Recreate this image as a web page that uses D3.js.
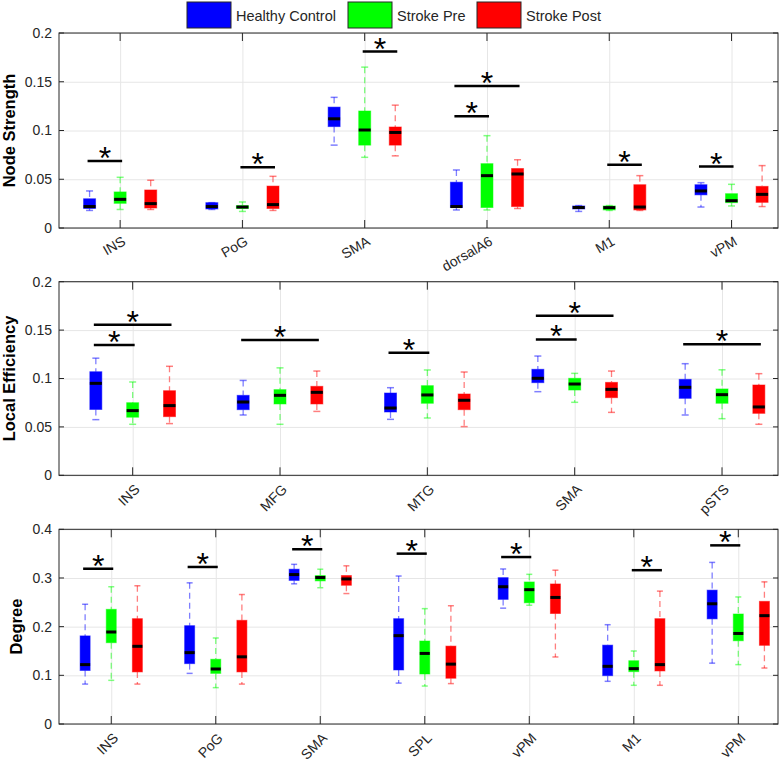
<!DOCTYPE html>
<html>
<head>
<meta charset="utf-8">
<script src="https://cdn.jsdelivr.net/npm/d3@7"></script>
<style>
  body { margin: 0; background: #fff; }
  text { font-family: "Liberation Sans", Arial, Helvetica, sans-serif; }
</style>
</head>
<body>
<div id="drawing_region"></div>
<script>
// each box: [lower whisker, q1, median, q3, upper whisker]
const groups = ['Healthy Control', 'Stroke Pre', 'Stroke Post'];
const groupColors = ['#0000ff', '#00ff00', '#ff0000'];

// Node Strength
const nsRegions = ['INS', 'PoG', 'SMA', 'dorsalA6', 'M1', 'vPM'];
const nsHC = [
    [0.018, 0.020, 0.022, 0.030, 0.038],
    [0.019, 0.0195, 0.022, 0.026, 0.026],
    [0.085, 0.104, 0.112, 0.124, 0.134],
    [0.0185, 0.021, 0.022, 0.047, 0.0595],
    [0.017, 0.0195, 0.021, 0.0226, 0.023],
    [0.0215, 0.034, 0.038, 0.0444, 0.0465]
];
const nsPre = [
    [0.019, 0.0253, 0.0294, 0.037, 0.052],
    [0.017, 0.020, 0.0215, 0.023, 0.0267],
    [0.0725, 0.085, 0.1005, 0.120, 0.165],
    [0.0185, 0.021, 0.0537, 0.066, 0.0947],
    [0.018, 0.0185, 0.0209, 0.0226, 0.023],
    [0.0226, 0.026, 0.028, 0.0352, 0.0448]
];
const nsPost = [
    [0.019, 0.0205, 0.025, 0.039, 0.049],
    [0.018, 0.020, 0.024, 0.043, 0.053],
    [0.074, 0.085, 0.098, 0.1036, 0.126],
    [0.020, 0.022, 0.0554, 0.061, 0.070],
    [0.018, 0.0185, 0.0215, 0.0444, 0.0537],
    [0.022, 0.0263, 0.0345, 0.0427, 0.064]
];
// [region index, group a, group b, height]
const nsSig = [[0, 0, 1, 0.0687], [1, 1, 2, 0.0622], [2, 1, 2, 0.181],
               [3, 0, 2, 0.1456], [3, 0, 1, 0.1145], [4, 1, 2, 0.065], [5, 0, 1, 0.063]];
const nsTicks = [0, 0.05, 0.1, 0.15, 0.2];

// Local Efficiency
const leRegions = ['INS', 'MFG', 'MTG', 'SMA', 'pSTS'];
const leHC = [
    [0.0575, 0.068, 0.095, 0.107, 0.121],
    [0.0623, 0.0678, 0.0757, 0.0826, 0.098],
    [0.0578, 0.0654, 0.0695, 0.085, 0.0905],
    [0.0864, 0.0957, 0.1002, 0.1095, 0.1232],
    [0.0623, 0.0795, 0.0909, 0.0991, 0.1153]
];
const lePre = [
    [0.0527, 0.060, 0.0668, 0.075, 0.0964],
    [0.0527, 0.0737, 0.0826, 0.0885, 0.111],
    [0.0592, 0.0744, 0.083, 0.0926, 0.1088],
    [0.0754, 0.0881, 0.0943, 0.1002, 0.1053],
    [0.0585, 0.0744, 0.0833, 0.0892, 0.109]
];
const lePost = [
    [0.0534, 0.0606, 0.072, 0.0874, 0.1126],
    [0.066, 0.0737, 0.0857, 0.0919, 0.1077],
    [0.0503, 0.0678, 0.0775, 0.084, 0.1067],
    [0.065, 0.0802, 0.0888, 0.096, 0.1077],
    [0.0527, 0.064, 0.0706, 0.0933, 0.105]
];
const leSig = [[0, 0, 2, 0.1556], [0, 0, 1, 0.1346], [1, 0, 2, 0.1398], [2, 0, 1, 0.1267],
               [3, 0, 2, 0.1649], [3, 0, 1, 0.1404], [4, 0, 2, 0.1353]];
const leTicks = [0, 0.05, 0.1, 0.15, 0.2];

// Degree
const dgRegions = ['INS', 'PoG', 'SMA', 'SPL', 'vPM', 'M1', 'vPM'];
const dgHC = [
    [0.082, 0.110, 0.122, 0.181, 0.246],
    [0.104, 0.124, 0.1466, 0.202, 0.290],
    [0.288, 0.295, 0.307, 0.318, 0.328],
    [0.084, 0.111, 0.1815, 0.2164, 0.304],
    [0.238, 0.256, 0.282, 0.3007, 0.3185],
    [0.0877, 0.0993, 0.1185, 0.162, 0.204],
    [0.125, 0.216, 0.247, 0.275, 0.332]
];
const dgPre = [
    [0.0897, 0.167, 0.189, 0.2356, 0.282],
    [0.0747, 0.104, 0.113, 0.133, 0.1767],
    [0.280, 0.294, 0.301, 0.305, 0.318],
    [0.078, 0.1027, 0.145, 0.1705, 0.237],
    [0.244, 0.249, 0.276, 0.2918, 0.3075],
    [0.0795, 0.1075, 0.1137, 0.130, 0.150],
    [0.122, 0.171, 0.186, 0.226, 0.261]
];
const dgPost = [
    [0.082, 0.107, 0.1596, 0.2164, 0.284],
    [0.082, 0.107, 0.138, 0.213, 0.266],
    [0.268, 0.285, 0.298, 0.305, 0.325],
    [0.083, 0.094, 0.123, 0.160, 0.243],
    [0.1377, 0.227, 0.260, 0.2877, 0.316],
    [0.0795, 0.109, 0.122, 0.2164, 0.273],
    [0.115, 0.1616, 0.2226, 0.252, 0.292]
];
const dgSig = [[0, 0, 1, 0.319], [1, 0, 1, 0.3226], [2, 0, 1, 0.359], [3, 0, 1, 0.35],
               [4, 0, 1, 0.343], [5, 1, 2, 0.316], [6, 0, 1, 0.367]];
const dgTicks = [0, 0.1, 0.2, 0.3, 0.4];

const panels = [
    { label: 'Node Strength', regions: nsRegions, series: [nsHC, nsPre, nsPost], sig: nsSig,
      ticks: nsTicks, top: 33, bottom: 228, rot: -30, boxW: 12, capW: 7, labelX: 14.5 },
    { label: 'Local Efficiency', regions: leRegions, series: [leHC, lePre, lePost], sig: leSig,
      ticks: leTicks, top: 281.7, bottom: 475.3, rot: -45, boxW: 12, capW: 7, labelX: 14.5 },
    { label: 'Degree', regions: dgRegions, series: [dgHC, dgPre, dgPost], sig: dgSig,
      ticks: dgTicks, top: 529.3, bottom: 724, rot: -45, boxW: 10, capW: 6, labelX: 22 }
];

const W = 780, H = 762;
const left = 59, right = 778;
const offsets = [-0.25, 0, 0.25];
const axisColor = '#262626';

const svg = d3.select('#drawing_region')
    .append('svg')
    .attr('width', W)
    .attr('height', H);

panels.forEach(p => {
    const n = p.regions.length;
    const xscale = d3.scaleLinear().domain([0.5, n + 0.38]).range([left, right]);
    const yscale = d3.scaleLinear().domain([0, d3.max(p.ticks)]).range([p.bottom, p.top]);
    const g = svg.append('g');

    // grid
    g.append('g')
        .attr('transform', `translate(${left},0)`)
        .call(d3.axisLeft(yscale).tickValues(p.ticks).tickSize(-(right - left)).tickFormat(''))
        .call(s => s.select('.domain').remove())
        .selectAll('line').attr('stroke', '#e6e6e6');
    g.append('g')
        .attr('transform', `translate(0,${p.bottom})`)
        .call(d3.axisBottom(xscale).tickValues(d3.range(1, n + 1)).tickSize(-(p.bottom - p.top)).tickFormat(''))
        .call(s => s.select('.domain').remove())
        .selectAll('line').attr('stroke', '#e6e6e6');

    // boxes
    p.series.forEach((ser, gi) => {
        const col = groupColors[gi];
        ser.forEach((st, ri) => {
            const cx = xscale(ri + 1 + offsets[gi]);
            const bw = p.boxW, cw = p.capW;
            const bg = g.append('g');
            // whiskers
            bg.append('line')
                .attr('x1', cx).attr('x2', cx)
                .attr('y1', yscale(st[4])).attr('y2', yscale(st[3]))
                .attr('stroke', col).attr('stroke-opacity', 0.5)
                .attr('stroke-width', 1.3).attr('stroke-dasharray', '6,4');
            bg.append('line')
                .attr('x1', cx).attr('x2', cx)
                .attr('y1', yscale(st[1])).attr('y2', yscale(st[0]))
                .attr('stroke', col).attr('stroke-opacity', 0.5)
                .attr('stroke-width', 1.3).attr('stroke-dasharray', '6,4');
            [st[0], st[4]].forEach(v => {
                bg.append('line')
                    .attr('x1', cx - cw / 2).attr('x2', cx + cw / 2)
                    .attr('y1', yscale(v)).attr('y2', yscale(v))
                    .attr('stroke', col).attr('stroke-opacity', 0.5).attr('stroke-width', 1.5);
            });
            // box
            bg.append('rect')
                .attr('x', cx - bw / 2).attr('width', bw)
                .attr('y', yscale(st[3]))
                .attr('height', Math.max(yscale(st[1]) - yscale(st[3]), 1))
                .attr('fill', col)
                .attr('stroke', col).attr('stroke-opacity', 0.5).attr('stroke-width', 1);
            // median
            bg.append('line')
                .attr('x1', cx - bw / 2).attr('x2', cx + bw / 2)
                .attr('y1', yscale(st[2])).attr('y2', yscale(st[2]))
                .attr('stroke', '#000').attr('stroke-width', 3);
        });
    });

    // significance bars
    p.sig.forEach(s => {
        const x1 = xscale(s[0] + 1 + offsets[s[1]]) - 2;
        const x2 = xscale(s[0] + 1 + offsets[s[2]]) + 2;
        const yy = yscale(s[3]);
        g.append('line')
            .attr('x1', x1).attr('x2', x2).attr('y1', yy).attr('y2', yy)
            .attr('stroke', '#000').attr('stroke-width', 2.5);
        g.append('text')
            .attr('x', (x1 + x2) / 2).attr('y', yy + 8)
            .attr('text-anchor', 'middle')
            .attr('font-size', 32)
            .attr('fill', '#000')
            .text('*');
    });

    // frame
    g.append('rect')
        .attr('x', left).attr('y', p.top)
        .attr('width', right - left).attr('height', p.bottom - p.top)
        .attr('fill', 'none').attr('stroke', axisColor).attr('stroke-width', 1);

    // ticks on all four sides
    const xt = d3.range(1, n + 1);
    xt.forEach(k => {
        const xx = xscale(k);
        g.append('line').attr('x1', xx).attr('x2', xx).attr('y1', p.bottom).attr('y2', p.bottom - 8)
            .attr('stroke', axisColor);
        g.append('line').attr('x1', xx).attr('x2', xx).attr('y1', p.top).attr('y2', p.top + 8)
            .attr('stroke', axisColor);
    });
    p.ticks.forEach(t => {
        const yy = yscale(t);
        g.append('line').attr('x1', left).attr('x2', left + 5).attr('y1', yy).attr('y2', yy)
            .attr('stroke', axisColor);
        g.append('line').attr('x1', right).attr('x2', right - 5).attr('y1', yy).attr('y2', yy)
            .attr('stroke', axisColor);
        g.append('text')
            .attr('x', left - 7).attr('y', yy).attr('dy', '0.35em')
            .attr('text-anchor', 'end')
            .attr('font-size', 14)
            .attr('fill', axisColor)
            .text(String(t));
    });

    // rotated category labels
    p.regions.forEach((r, i) => {
        g.append('text')
            .attr('transform', `translate(${xscale(i + 1) + 3},${p.bottom + 10}) rotate(${p.rot})`)
            .attr('text-anchor', 'end')
            .attr('dy', '0.5em')
            .attr('font-size', 14)
            .attr('fill', axisColor)
            .text(r);
    });

    // y label
    g.append('text')
        .attr('transform', `translate(${p.labelX},${(p.top + p.bottom) / 2}) rotate(-90)`)
        .attr('text-anchor', 'middle')
        .attr('font-size', 16.5)
        .attr('font-weight', 'bold')
        .attr('fill', '#000')
        .text(p.label);
});

// legend
const legendX = [187, 348, 477];
groups.forEach((name, i) => {
    svg.append('rect')
        .attr('x', legendX[i]).attr('y', 2)
        .attr('width', 44).attr('height', 26)
        .attr('fill', groupColors[i])
        .attr('stroke', axisColor).attr('stroke-width', 1);
    svg.append('text')
        .attr('x', legendX[i] + 49).attr('y', 21)
        .attr('font-size', 14.5)
        .attr('fill', axisColor)
        .text(name);
});
</script>
</body>
</html>
